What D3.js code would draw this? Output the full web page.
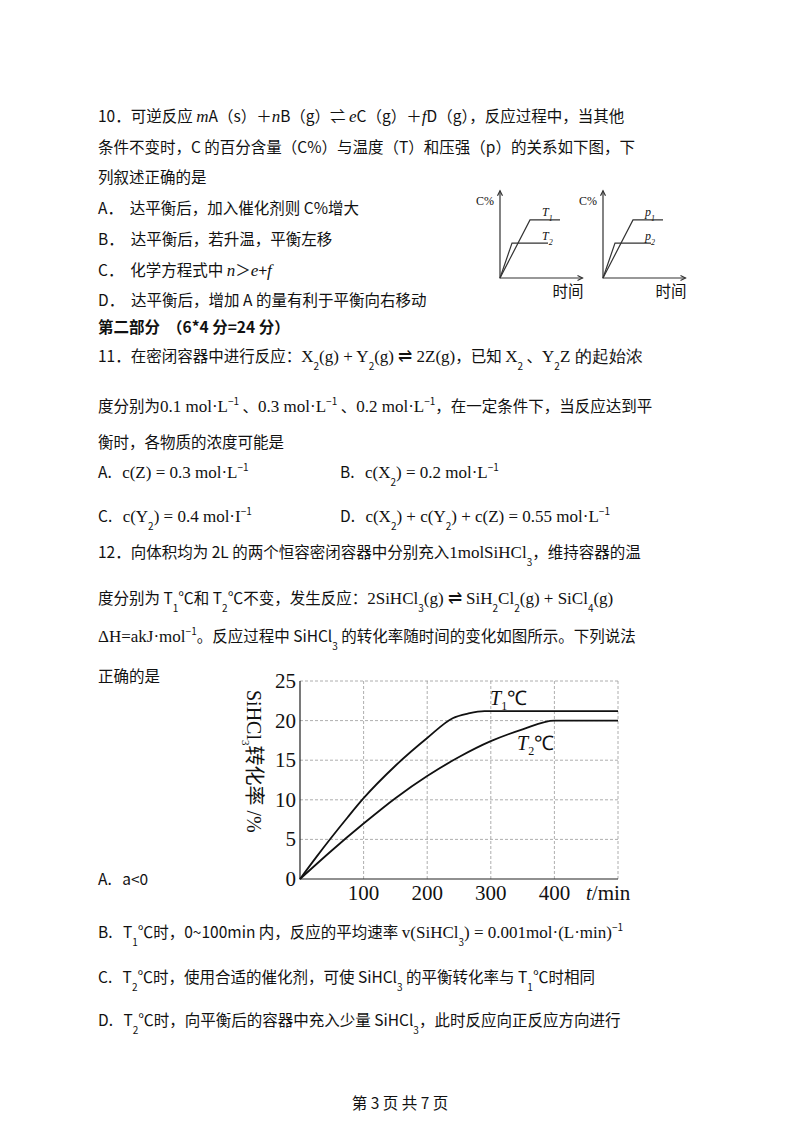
<!doctype html>
<html>
<head>
<meta charset="utf-8" />
<script src="https://d3js.org/d3.v7.min.js"></script>
<style>
body{margin:0;background:#fff}
text{fill:#111;white-space:pre}
.cn{font-family:"Noto Sans CJK SC",sans-serif;font-size:15.5px}
.ser{font-family:"Liberation Serif",serif}
</style>
</head>
<body>
<svg id="page" width="800" height="1132"></svg>
<script>
// main chart data
var tValues = [0, 100, 200, 300, 400, 500];
var yTicks = [0, 5, 10, 15, 20, 25];
var xTickLabels = ["100", "200", "300", "400"];
var t1Series = [[0,0],[25,2.7],[50,5.3],[75,7.8],[100,10.2],[150,14.3],[200,17.8],[240,20.3],[265,20.9],[290,21.2],[500,21.2]];
var t2Series = [[0,0],[50,3.6],[100,7],[150,10.2],[200,13],[250,15.4],[300,17.4],[350,18.9],[400,20],[500,20]];
// small sketches (arbitrary units 0..10)
var sketchHigh = [[0,0],[4,7],[8,7]];
var sketchLow = [[0,0],[1.6,4.2],[6.4,4.2]];

var svg = d3.select("#page");

function line(x, y, str, cls) {
  svg.append("text").attr("class", cls || "cn").attr("x", x).attr("y", y).text(str);
}
function rich(x, y, parts) {
  var t = svg.append("text").attr("class", "cn").attr("x", x).attr("y", y);
  parts.forEach(function(p) {
    var s = t.append("tspan").text(p[0]);
    if (p[1] == "i") s.attr("font-style", "italic").attr("font-family", "Liberation Serif").attr("font-size", 17);
    if (p[1] == "sub") s.attr("baseline-shift", "sub").attr("font-size", 10);
    if (p[1] == "sup") s.attr("baseline-shift", "super").attr("font-size", 10);
    if (p[1] == "r") s.attr("font-family", "Liberation Serif").attr("font-size", 17);
  });
}

rich(98, 122, [["10．可逆反应 "],["m","i"],["A（s）＋"],["n","i"],["B（g）⇌ "],["e","i"],["C（g）＋"],["f","i"],["D（g），反应过程中，当其他"]]);
line(98, 153, "条件不变时，C 的百分含量（C%）与温度（T）和压强（p）的关系如下图，下");
line(98, 183, "列叙述正确的是");
line(98, 214, "A．  达平衡后，加入催化剂则 C%增大");
line(98, 245, "B．  达平衡后，若升温，平衡左移");
rich(98, 276, [["C．  化学方程式中 "],["n","i"],["＞"],["e","i"],["+"],["f","i"]]);
line(98, 306, "D．  达平衡后，增加 A 的量有利于平衡向右移动");
svg.append("text").attr("class","cn").attr("x",98).attr("y",333).attr("font-weight","bold").text("第二部分  （6*4 分=24 分）");
rich(98, 362, [["11．在密闭容器中进行反应："],["X","r"],["2","sub"],["(g) + Y","r"],["2","sub"],["(g) ⇌ 2Z(g)","r"],["，已知 "],["X","r"],["2","sub"],[" 、"],["Y","r"],["2","sub"],["Z 的起始浓","r"]]);
rich(98, 412, [["度分别为"],["0.1 mol·L","r"],["−1","sup"],[" 、"],["0.3 mol·L","r"],["−1","sup"],[" 、"],["0.2 mol·L","r"],["−1","sup"],["，在一定条件下，当反应达到平"]]);
line(98, 448, "衡时，各物质的浓度可能是");
rich(98, 478, [["A.   "],["c(Z) = 0.3 mol·L","r"],["−1","sup"]]);
rich(340, 478, [["B.   "],["c(X","r"],["2","sub"],[") = 0.2 mol·L","r"],["−1","sup"]]);
rich(98, 522, [["C.   "],["c(Y","r"],["2","sub"],[") = 0.4 mol·I","r"],["−1","sup"]]);
rich(340, 522, [["D.   "],["c(X","r"],["2","sub"],[") + c(Y","r"],["2","sub"],[") + c(Z) = 0.55 mol·L","r"],["−1","sup"]]);
rich(98, 558, [["12．向体积均为 2L 的两个恒容密闭容器中分别充入"],["1molSiHCl","r"],["3","sub"],["，维持容器的温"]]);
rich(98, 604, [["度分别为 T"],["1","sub"],["℃和 T"],["2","sub"],["℃不变，发生反应："],["2SiHCl","r"],["3","sub"],["(g) ⇌ SiH","r"],["2","sub"],["Cl","r"],["2","sub"],["(g) + SiCl","r"],["4","sub"],["(g)","r"]]);
rich(98, 642, [["ΔH=akJ·mol","r"],["−1","sup"],["。反应过程中 SiHCl"],["3","sub"],[" 的转化率随时间的变化如图所示。下列说法"]]);
line(98, 682, "正确的是");
line(98, 885, "A.   a<0");
rich(98, 938, [["B.   T"],["1","sub"],["℃时，0~100min 内，反应的平均速率 "],["v(SiHCl","r"],["3","sub"],[") = 0.001mol·(L·min)","r"],["−1","sup"]]);
rich(98, 983, [["C.   T"],["2","sub"],["℃时，使用合适的催化剂，可使 SiHCl"],["3","sub"],[" 的平衡转化率与 T"],["1","sub"],["℃时相同"]]);
rich(98, 1026, [["D.   T"],["2","sub"],["℃时，向平衡后的容器中充入少量 SiHCl"],["3","sub"],["，此时反应向正反应方向进行"]]);
svg.append("text").attr("class","cn").attr("x",400).attr("y",1109).attr("text-anchor","middle").attr("font-size",11).text("第 3 页 共 7 页");

// small sketches
function sketch(ox, labels) {
  var sx = d3.scaleLinear().domain([0, 10]).range([ox, ox + 75]);
  var sy = d3.scaleLinear().domain([0, 10]).range([278, 195]);
  var g = svg.append("g").attr("stroke", "#333").attr("fill", "none").attr("stroke-width", 1.2);
  g.append("path").attr("d", "M" + sx(0) + "," + sy(10.5) + "V" + sy(0) + "H" + sx(11));
  g.append("path").attr("d", "M" + (sx(0)-2.5) + "," + (sy(10.5)+5) + "L" + sx(0) + "," + sy(10.5) + "L" + (sx(0)+2.5) + "," + (sy(10.5)+5));
  g.append("path").attr("d", "M" + (sx(11)-5) + "," + (sy(0)-2.5) + "L" + sx(11) + "," + sy(0) + "L" + (sx(11)-5) + "," + (sy(0)+2.5));
  var ln = d3.line().x(d => sx(d[0])).y(d => sy(d[1]));
  g.append("path").attr("d", ln(sketchHigh));
  g.append("path").attr("d", ln(sketchLow));
  svg.append("text").attr("class","ser").attr("x", sx(-0.8)).attr("y", sy(8.8)).attr("text-anchor","end").attr("font-size",12).text("C%");
  svg.append("text").attr("class","cn").attr("x", sx(7)).attr("y", sy(-2.3)).attr("font-size",12).text("时间");
  svg.append("text").attr("class","ser").attr("x", sx(5.6)).attr("y", sy(7.5)).attr("font-size",12).attr("font-style","italic").text(labels[0]).append("tspan").attr("baseline-shift","sub").attr("font-size",8).text("1");
  svg.append("text").attr("class","ser").attr("x", sx(5.6)).attr("y", sy(4.6)).attr("font-size",12).attr("font-style","italic").text(labels[1]).append("tspan").attr("baseline-shift","sub").attr("font-size",8).text("2");
}
sketch(500, ["T", "T"]);
sketch(603, ["p", "p"]);

// main chart
var x = d3.scaleLinear().domain([0, 500]).range([300, 618]);
var y = d3.scaleLinear().domain([0, 25]).range([879, 681]);
var grid = svg.append("g").attr("stroke", "#999").attr("stroke-dasharray", "3,2").attr("stroke-width", 0.8);
tValues.slice(1).forEach(function(t) {
  grid.append("line").attr("x1", x(t)).attr("x2", x(t)).attr("y1", y(0)).attr("y2", y(25));
});
yTicks.slice(1).forEach(function(v) {
  grid.append("line").attr("x1", x(0)).attr("x2", x(500)).attr("y1", y(v)).attr("y2", y(v));
});
svg.append("path").attr("d", "M" + x(0) + "," + y(25) + "V" + y(0) + "H" + x(500))
  .attr("stroke", "#222").attr("fill", "none").attr("stroke-width", 1.2);
svg.selectAll(".yt").data(yTicks).enter().append("text").attr("class", "ser")
  .attr("x", x(0) - 4).attr("y", d => y(d) + 7).attr("text-anchor", "end").attr("font-size", 21).text(d => d);
svg.selectAll(".xt").data(xTickLabels).enter().append("text").attr("class", "ser")
  .attr("x", d => x(+d)).attr("y", y(0) + 21).attr("text-anchor", "middle").attr("font-size", 21).text(d => d);
svg.append("text").attr("class","ser").attr("x", 586).attr("y", y(0) + 21).attr("font-size", 21)
  .html('<tspan font-style="italic">t</tspan>/min');
var curve = d3.line().x(d => x(d[0])).y(d => y(d[1])).curve(d3.curveMonotoneX);
[t1Series, t2Series].forEach(function(s) {
  svg.append("path").attr("d", curve(s)).attr("fill", "none").attr("stroke", "#111").attr("stroke-width", 1.8);
});
svg.append("text").attr("class","ser").attr("x", 490).attr("y", 705).attr("font-size", 20)
  .html('<tspan font-style="italic">T</tspan><tspan dy="5" font-size="12">1</tspan><tspan dy="-5">℃</tspan>');
svg.append("text").attr("class","ser").attr("x", 517).attr("y", 750).attr("font-size", 20)
  .html('<tspan font-style="italic">T</tspan><tspan dy="5" font-size="12">2</tspan><tspan dy="-5">℃</tspan>');
svg.append("text").attr("transform", "translate(247,690) rotate(90)").attr("font-size", 20)
  .attr("font-family", "Liberation Serif")
  .html('SiHCl<tspan dy="5" font-size="11">3</tspan><tspan dy="-5" font-family="Noto Sans CJK SC">转化率</tspan> /%');
</script>
</body>
</html>
